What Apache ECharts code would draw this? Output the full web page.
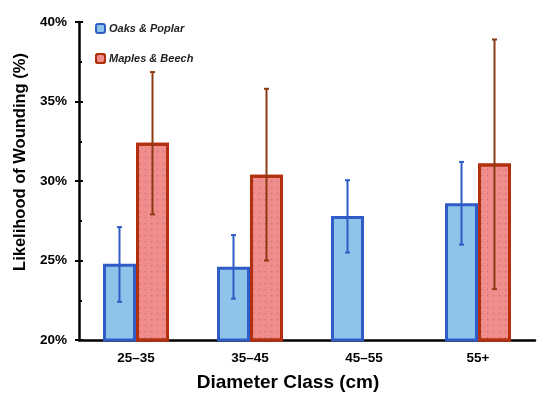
<!DOCTYPE html>
<html><head><meta charset="utf-8">
<script src="https://cdn.jsdelivr.net/npm/echarts@6/dist/echarts.min.js"></script>
<style>html,body{margin:0;padding:0;background:#fff}#c{width:550px;height:399px}</style>
</head><body><div id="c"></div>
<script>
const categories = ['25–35', '35–45', '45–55', '55+'];
const oaksMean = [24.8, 24.6, 27.8, 28.6];
const oaksLow  = [22.4, 22.6, 25.5, 26.0];
const oaksHigh = [27.1, 26.6, 30.05, 31.2];
const maplesMean = [32.4, 30.4, null, 31.1];
const maplesLow  = [27.9, 25.0, null, 23.2];
const maplesHigh = [36.85, 35.8, null, 38.9];
const yTicks = [20, 25, 30, 35, 40];
const xTitle = 'Diameter Class (cm)';
const yTitle = 'Likelihood of Wounding (%)';

const BW = 33;
const chart = echarts.init(document.getElementById('c'));
function errSeries(name, low, high, color, side) {
  return {
    type: 'custom', name: name + ' err', z: 5, silent: true,
    data: categories.map((c, i) => [i, low[i], high[i]]).filter(d => d[1] != null),
    renderItem: function (params, api) {
      const x = api.value(0);
      const lo = api.coord([x, api.value(1)]);
      const hi = api.coord([x, api.value(2)]);
      const cx = lo[0] + side * BW / 2;
      const cap = 2.5;
      return { type: 'group', children: [
        { type: 'line', shape: { x1: cx, y1: lo[1], x2: cx, y2: hi[1] }, style: { stroke: color, lineWidth: 2 } },
        { type: 'line', shape: { x1: cx - cap, y1: lo[1], x2: cx + cap, y2: lo[1] }, style: { stroke: color, lineWidth: 2 } },
        { type: 'line', shape: { x1: cx - cap, y1: hi[1], x2: cx + cap, y2: hi[1] }, style: { stroke: color, lineWidth: 2 } }
      ]};
    }
  };
}
const font = 'Liberation Sans, Arial, sans-serif';
chart.setOption({
  animation: false,
  textStyle: { fontFamily: font },
  grid: { left: 79, right: 15, top: 22, bottom: 59 },
  legend: {
    left: 90, top: 18, orient: 'vertical', itemGap: 19, itemWidth: 9, itemHeight: 9,
    textStyle: { fontStyle: 'italic', fontWeight: 'bold', fontSize: 11, color: '#222', padding: [0, 0, 0, -1] },
    data: ['Oaks & Poplar', 'Maples & Beech']
  },
  graphic: [
    { type: 'text', x: 288, y: 383, style: { text: xTitle, font: 'bold 19px ' + font, fill: '#000', textAlign: 'center', textVerticalAlign: 'middle' } },
    { type: 'text', x: 20, y: 162, rotation: Math.PI / 2, style: { text: yTitle, font: 'bold 16.5px ' + font, fill: '#000', textAlign: 'center', textVerticalAlign: 'middle' } }
  ],
  xAxis: {
    type: 'category', data: categories,
    axisLine: { lineStyle: { color: '#000', width: 2.5 } },
    axisTick: { alignWithLabel: true, length: 4, lineStyle: { color: '#000', width: 2 } },
    axisLabel: { fontWeight: 'bold', fontSize: 13.5, color: '#000', margin: 11 }
  },
  yAxis: [{
    type: 'value', min: 20, max: 40, interval: 5,
    axisLine: { show: true, lineStyle: { color: '#000', width: 2.5 } },
    axisTick: { show: true, length: 4, lineStyle: { color: '#000', width: 2 } },
    splitLine: { show: false },
    axisLabel: { fontWeight: 'bold', fontSize: 13.5, color: '#000', margin: 12,
      formatter: v => yTicks.includes(v) ? v + '%' : '' }
  }, {
    type: 'value', min: 20, max: 40, interval: 5, position: 'left',
    axisLine: { show: false },
    axisTick: { show: true, inside: true, length: 4, lineStyle: { color: '#000', width: 2 } },
    minorTick: { show: true, splitNumber: 2, length: 3, lineStyle: { color: '#000', width: 2 } },
    splitLine: { show: false },
    axisLabel: { show: false }
  }],
  series: [
    { name: 'Oaks & Poplar', type: 'bar', data: oaksMean, barWidth: BW, barGap: '0%',
      itemStyle: { color: '#8fc3ea', borderColor: '#2f5cc6', borderWidth: 3 } },
    { name: 'Maples & Beech', type: 'bar', data: maplesMean.map(v => v == null ? '-' : v), barWidth: BW,
      itemStyle: { color: '#f08c8c', borderColor: '#b3300f', borderWidth: 3,
        decal: { symbol: 'circle', symbolSize: 0.5, color: 'rgba(150,90,90,0.5)', dashArrayX: [3, 3], dashArrayY: [3, 3], rotation: 0 } } },
    errSeries('Oaks & Poplar', oaksLow, oaksHigh, '#2f5cc6', -1),
    errSeries('Maples & Beech', maplesLow, maplesHigh, '#8a3b12', 1)
  ]
});
</script></body></html>
